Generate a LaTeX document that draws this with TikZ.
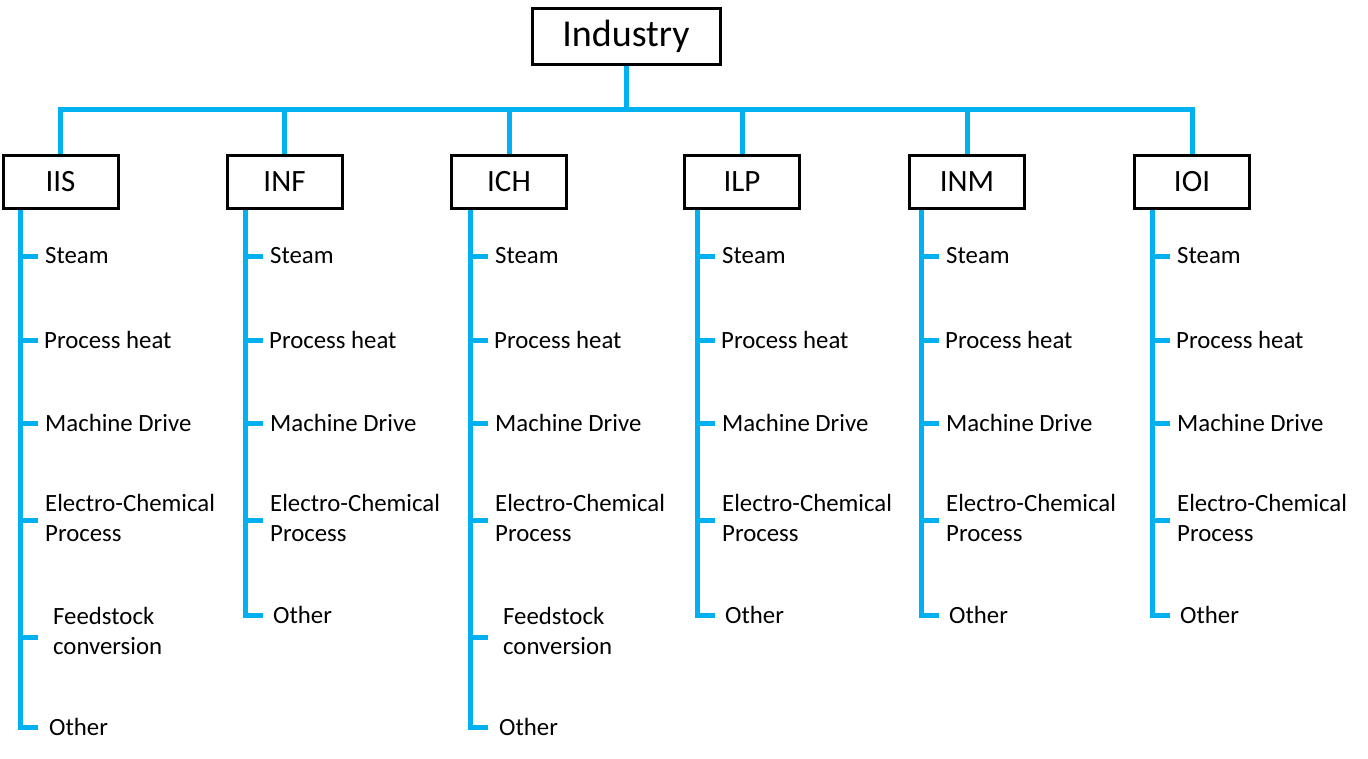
\documentclass[tikz,border=0pt]{standalone}
\usepackage{fontspec}
\setmainfont{Carlito}
\definecolor{lineblue}{HTML}{00B0F0}
\begin{document}
\begin{tikzpicture}[x=1pt,y=-1pt,
  topbox/.style={draw, line width=3pt, fill=white, minimum width=188pt, minimum height=56pt, inner sep=0pt, font=\fontsize{38}{42}\selectfont},
  catbox/.style={draw, line width=3pt, fill=white, minimum width=115pt, minimum height=53pt, inner sep=0pt, font=\fontsize{31}{36}\selectfont},
  conn/.style={draw=lineblue, line width=5pt},
  item/.style={anchor=west, inner sep=0pt, align=left, font=\fontsize{24.8}{30}\selectfont}]
\useasboundingbox (0,0) rectangle (1368,758);

\node[topbox] (ind) at (626,36.5) {Industry};
\coordinate (bus) at (626,109);

\foreach \g/\bx/\sx in {IIS/60.5/20, INF/284.5/245, ICH/509/470, ILP/742/697, INM/967/921, IOI/1192/1152}{
  \node[catbox] (\g) at (\bx,182) {\g};
  \coordinate (\g-sp) at (\sx,0);
}

% bus
\draw[conn] (ind.south) -- (bus);
\draw[conn] (IIS.north) |- (IOI.north |- bus) -- (IOI.north);
\foreach \g in {INF,ICH,ILP,INM}{
  \draw[conn] (\g.north |- bus) -- (\g.north);
}

% six-item groups
\foreach \g in {IIS,ICH}{
  \foreach \k/\ty/\yy/\off/\txt in {1/256/256/25/Steam, 2/340/340/24/Process heat, 3/423/423/25/Machine Drive, 4/520/518/25/{Electro-Chemical\\Process}, 5/637/631/33/{Feedstock\\conversion}, 6/727/727/29/Other}{
    \coordinate (\g-t\k) at (\g-sp |- 0,\ty);
    \node[item] (\g-i\k) at ([xshift=\off pt]\g-sp |- 0,\yy) {\txt};
    \pgfmathsetmacro{\sh}{\off-18}
    \draw[conn, shorten >=\sh pt] (\g-t\k) -- (\g-t\k -| \g-i\k.west);
  }
  \draw[conn, shorten >=-2.5pt] (\g.south -| \g-sp) -- (\g-t6);
}

% five-item groups
\foreach \g in {INF,ILP,INM,IOI}{
  \foreach \k/\ty/\yy/\off/\txt in {1/256/256/25/Steam, 2/340/340/24/Process heat, 3/423/423/25/Machine Drive, 4/520/518/25/{Electro-Chemical\\Process}, 5/615/615/28/Other}{
    \coordinate (\g-t\k) at (\g-sp |- 0,\ty);
    \node[item] (\g-i\k) at ([xshift=\off pt]\g-sp |- 0,\yy) {\txt};
    \pgfmathsetmacro{\sh}{\off-18}
    \draw[conn, shorten >=\sh pt] (\g-t\k) -- (\g-t\k -| \g-i\k.west);
  }
  \draw[conn, shorten >=-2.5pt] (\g.south -| \g-sp) -- (\g-t5);
}
\end{tikzpicture}
\end{document}
